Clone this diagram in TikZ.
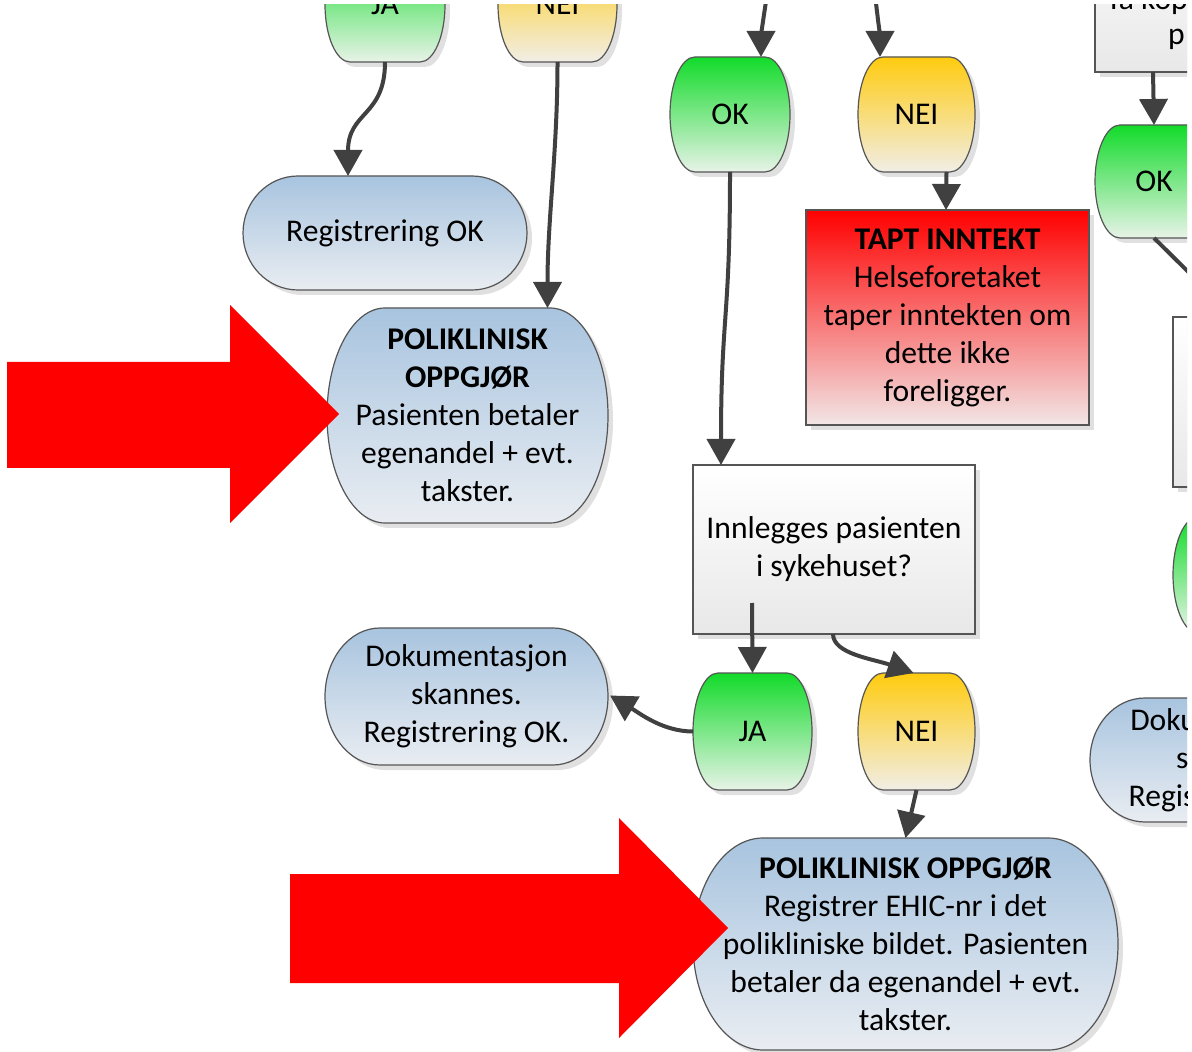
\documentclass[tikz,border=0pt]{standalone}
\usepackage{fontspec}
\setmainfont{Carlito}
\usetikzlibrary{arrows.meta,calc}
\definecolor{greentop}{HTML}{12DB2A}
\definecolor{greenbot}{HTML}{E8F3E8}
\definecolor{yellowtop}{HTML}{FFCB0F}
\definecolor{yellowbot}{HTML}{F1EEE6}
\definecolor{bluetop}{HTML}{A8C4DF}
\definecolor{bluebot}{HTML}{E9EDF2}
\definecolor{redtop}{HTML}{FF0000}
\definecolor{redbot}{HTML}{F2E6E6}
\definecolor{whitetop}{HTML}{FFFFFF}
\definecolor{whitebot}{HTML}{E8E8E8}
\definecolor{outcol}{HTML}{555555}
\definecolor{conncol}{HTML}{404040}
\definecolor{bigred}{HTML}{FF0000}
\tikzset{
  conn/.style={draw=conncol, line width=2pt, -{Triangle[width=14pt,length=13pt]}},
  lbl/.style={inner sep=0pt, outer sep=0pt, align=center, text=black,
    font=\fontsize{15.8pt}{19pt}\selectfont},
  outl/.style={draw=outcol, line width=0.6pt},
  shadowfill/.style={fill=black!12},
  bigarrow/.style={fill=bigred},
}
% capsule: name, cx, cy, w, h, rx, colour prefix, text
\newcommand\capsule[8]{%
  \pgfmathsetmacro\cL{#2-#4/2+#6}%
  \pgfmathsetmacro\cR{#2+#4/2-#6}%
  \pgfmathsetmacro\cT{#3-#5/2}%
  \pgfmathsetmacro\cB{#3+#5/2}%
  \pgfmathsetmacro\rxx{#6*0.5}%
  \pgfmathsetmacro\ryy{#5*0.25}%
  \fill[shadowfill] (\cL+5,\cT+5) -- (\cR+5,\cT+5)
     arc[start angle=90,end angle=-90,x radius=\rxx pt,y radius=\ryy pt]
     -- (\cL+5,\cB+5)
     arc[start angle=270,end angle=90,x radius=\rxx pt,y radius=\ryy pt] -- cycle;
  \path[outl,top color=#7top,bottom color=#7bot] (\cL,\cT) -- (\cR,\cT)
     arc[start angle=90,end angle=-90,x radius=\rxx pt,y radius=\ryy pt]
     -- (\cL,\cB)
     arc[start angle=270,end angle=90,x radius=\rxx pt,y radius=\ryy pt] -- cycle;
  \node[lbl,minimum width=#4*0.5pt,minimum height=#5*0.5pt] (#1) at (#2,#3) {#8};
}
% box: name, cx, cy, w, h, colour prefix, text
\newcommand\boxnode[7]{%
  \fill[shadowfill] (#2-#4/2+5,#3-#5/2+5) rectangle (#2+#4/2+5,#3+#5/2+5);
  \node[lbl,outl,rectangle,top color=#6top,bottom color=#6bot,
    minimum width=#4*0.5pt,minimum height=#5*0.5pt] (#1) at (#2,#3) {#7};
}
\begin{document}
\begin{tikzpicture}[x=0.5pt,y=-0.5pt]
\useasboundingbox[fill=white] (0,0) rectangle (1192,1052);
\begin{scope}
\clip (0,5) rectangle (1187,1052);
% top-left partial answers
\capsule{ja1}{385}{4.5}{120}{115}{25}{green}{JA}
\capsule{nei1}{557.5}{4.5}{119}{115}{25}{yellow}{NEI}
\capsule{reg}{385}{233}{284}{114}{55}{blue}{Registrering OK}
\capsule{poli1}{467.5}{415.5}{281}{215}{58}{blue}{\textbf{POLIKLINISK}\\\textbf{OPPGJØR}\\Pasienten betaler\\egenandel + evt.\\takster.}
% middle column
\capsule{ok1}{730}{114.5}{120}{115}{25}{green}{OK}
\capsule{nei2}{916.5}{114.5}{117}{115}{25}{yellow}{NEI}
\boxnode{tapt}{947.5}{317.5}{283}{215}{red}{\textbf{TAPT INNTEKT}\\Helseforetaket\\taper inntekten om\\dette ikke\\foreligger.}
\boxnode{inn}{834}{549.5}{282}{169}{white}{Innlegges pasienten\\i sykehuset?}
\capsule{ja2}{752.5}{731.5}{119}{117}{25}{green}{JA}
\capsule{nei3}{916.5}{731.5}{117}{117}{25}{yellow}{NEI}
\capsule{doku}{466.5}{696.5}{283}{137}{55}{blue}{Dokumentasjon\\skannes.\\Registrering OK.}
\capsule{poli2}{905.5}{944}{425}{212}{70}{blue}{\textbf{POLIKLINISK OPPGJØR}\\Registrer EHIC-nr i det\\polikliniske bildet. Pasienten\\betaler da egenandel + evt.\\takster.}
% right column (partly outside)
\boxnode{tr}{1236}{-12}{282}{168}{white}{}
\node[lbl,anchor=base west] (trA) at (1106,10) {Ta kop};
\node[lbl,anchor=base west] (trB) at (1168,45) {p};
\capsule{ok3}{1154}{181.5}{118}{113}{25}{green}{OK}
\boxnode{rb2}{1314}{402}{282}{170}{white}{}
\capsule{g4}{1232}{575}{118}{116}{25}{green}{}
\capsule{doku2}{1231.5}{760}{283}{124}{55}{blue}{Dokumentasjon\\skannes.\\Registrering OK.}
% free ends
\coordinate (t1) at (767,-5);
\coordinate (t2) at (875,-5);
% connectors
\draw[conn] (ja1.south) .. controls +(0,55) and +(0,-65) .. ($(reg.north)+(-37,0)$);
\draw[conn] (nei1.south) .. controls +(0,90) and +(0,-90) .. ($(poli1.north)+(80,0)$);
\draw[conn] (t1) .. controls +(-4,25) and +(0,-20) .. ($(ok1.north)+(31,0)$);
\draw[conn] (t2) .. controls +(3,25) and +(0,-20) .. ($(nei2.north)+(-36.5,0)$);
\draw[conn] ($(nei2.south)+(30,0)$) -- ($(tapt.north)+(-1.5,0)$);
\draw[conn] (ok1.south) .. controls +(0,150) and +(0,-150) .. ($(inn.north)+(-113,0)$);
\draw[conn] ($(inn.south)+(-82,-31)$) -- (ja2.north);
\draw[conn] ($(inn.south)+(-1,0)$) .. controls +(0,20) and +(-40,-14) .. ($(nei3.north)+(-3,0)$);
\draw[conn] (ja2.west) .. controls +(-30,0) and +(30,18) .. ($(doku.east)+(2,-1)$);
\draw[conn] (nei3.south) -- (poli2.north);
\draw[conn] ($(tr.south)+(-83,0)$) -- (ok3.north);
\draw[conn] (ok3.south) -- ($(rb2.north)+(-80,0)$);
% big red pointers
\fill[bigarrow] (7,362) -- (230,362) -- (230,305) -- (339,414) -- (230,523) -- (230,468) -- (7,468) -- cycle;
\fill[bigarrow] (290,874) -- (619,874) -- (619,818) -- (728,928) -- (619,1038) -- (619,983) -- (290,983) -- cycle;
\end{scope}
\end{tikzpicture}
\end{document}
